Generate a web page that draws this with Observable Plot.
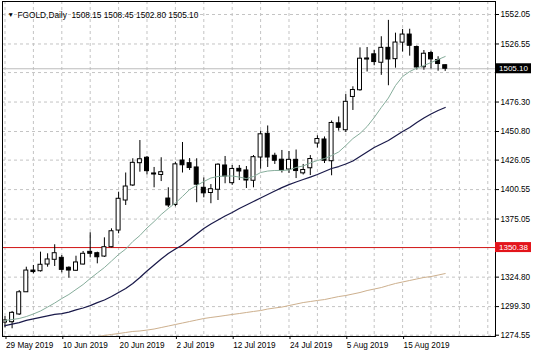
<!DOCTYPE html>
<html><head><meta charset="utf-8">
<script src="https://cdn.jsdelivr.net/npm/d3@7"></script>
<script src="https://cdn.jsdelivr.net/npm/@observablehq/plot@0.6"></script>
<style>html,body{margin:0;padding:0;background:#fff;} svg{display:block}</style>
</head><body><div id="chart"></div>
<script>
const dates = ["2019-05-29","2019-05-30","2019-05-31",
"2019-06-03","2019-06-04","2019-06-05","2019-06-06","2019-06-07","2019-06-10","2019-06-11","2019-06-12","2019-06-13","2019-06-14",
"2019-06-17","2019-06-18","2019-06-19","2019-06-20","2019-06-21","2019-06-24","2019-06-25","2019-06-26","2019-06-27","2019-06-28",
"2019-07-01","2019-07-02","2019-07-03","2019-07-04","2019-07-05","2019-07-08","2019-07-09","2019-07-10","2019-07-11","2019-07-12",
"2019-07-15","2019-07-16","2019-07-17","2019-07-18","2019-07-19","2019-07-22","2019-07-23","2019-07-24","2019-07-25","2019-07-26",
"2019-07-29","2019-07-30","2019-07-31","2019-08-01","2019-08-02","2019-08-05","2019-08-06","2019-08-07","2019-08-08","2019-08-09",
"2019-08-12","2019-08-13","2019-08-14","2019-08-15","2019-08-16","2019-08-19","2019-08-20","2019-08-21","2019-08-22","2019-08-23"];
const opens = [1285.5,1285.8,1292.5,1311.7,1330.5,1329.9,1335.7,1339.8,1341.5,1332.9,
1330.3,1335.7,1346.7,1345.5,1342.6,1350.7,1365.1,1391.1,1404.1,1423.4,
1428.1,1414.5,1413.2,1392.8,1387.2,1425.7,1423.4,1419.7,1402.1,1397.6,
1400.4,1421.4,1406.1,1418.5,1417.1,1408.2,1428.3,1448.8,1429.8,1426.4,
1417.9,1426.3,1414.6,1419.0,1440.4,1443.9,1425.1,1457.9,1451.9,1480.7,
1486.5,1513.1,1517.6,1510.3,1523.2,1513.4,1527.7,1534.7,1523.9,1506.4,
1518.7,1512.7,1508.15];
const highs = [1290.7,1295.1,1313.2,1333.4,1334.9,1346.4,1345.0,1352.8,1343.5,1333.7,
1342.9,1347.0,1363.2,1346.4,1358.8,1366.6,1398.3,1414.9,1427.2,1443.0,
1429.2,1419.7,1428.1,1402.1,1424.2,1441.3,1427.4,1427.2,1410.6,1404.9,
1422.9,1429.2,1421.4,1421.4,1420.5,1430.0,1451.1,1455.6,1432.0,1434.4,
1433.5,1434.8,1422.3,1430.0,1447.1,1446.1,1459.9,1463.4,1482.8,1489.5,
1523.2,1523.5,1520.9,1532.8,1547.0,1535.9,1539.1,1539.3,1524.8,1520.9,
1520.2,1515.5,1508.45];
const lows = [1281.0,1280.1,1291.6,1311.5,1327.7,1329.2,1333.4,1334.0,1328.5,1323.9,
1329.7,1335.3,1341.5,1336.3,1341.8,1350.2,1362.3,1386.8,1403.2,1415.6,
1413.2,1402.1,1407.5,1385.0,1385.7,1414.9,1417.1,1389.2,1393.4,1388.3,
1391.1,1405.6,1404.2,1408.4,1401.5,1402.1,1418.2,1419.7,1422.3,1414.9,
1414.5,1410.1,1413.2,1412.7,1436.5,1423.1,1412.5,1451.1,1449.9,1469.0,
1485.7,1502.3,1507.7,1499.4,1490.4,1505.6,1519.6,1516.0,1504.0,1503.8,
1504.9,1503.0,1502.80];
const closes = [1287.3,1293.9,1311.7,1330.5,1329.2,1335.5,1340.1,1345.5,1331.1,1330.5,
1337.5,1345.0,1345.0,1342.0,1350.7,1364.5,1392.6,1403.2,1423.7,1426.8,
1416.5,1413.6,1415.6,1386.8,1422.4,1421.6,1419.2,1404.8,1397.3,1400.9,
1422.1,1411.9,1418.4,1416.2,1408.4,1428.6,1448.4,1428.3,1425.5,1417.1,
1426.3,1416.6,1417.5,1427.0,1444.3,1425.5,1458.2,1454.0,1476.5,1486.7,
1513.8,1514.0,1510.9,1523.2,1513.1,1527.8,1534.7,1525.0,1506.2,1518.1,
1513.2,1509.2,1505.10];
const maFast = [1287.3,1288.1,1289.0,1290.7,1292.9,1295.5,1298.9,1302.4,1306.3,1309.8,
1314.1,1318.4,1323.6,1328.4,1333.1,1338.7,1344.4,1349.1,1355.6,1360.8,
1367.3,1372.9,1379.0,1384.2,1388.9,1394.6,1400.6,1404.1,1407.5,1410.6,
1411.9,1412.3,1412.3,1411.4,1410.1,1411.9,1415.3,1416.6,1417.1,1417.1,
1417.5,1419.7,1421.0,1423.6,1425.7,1427.4,1430.0,1433.1,1438.7,1444.7,
1449.1,1455.1,1462.9,1471.6,1479.8,1490.6,1498.4,1502.7,1505.7,1507.9,
1510.5,1513.1,1515.7];
const maMid = [1282.9,1284.2,1285.5,1287.3,1288.6,1289.9,1291.2,1292.5,1293.3,1294.6,
1296.4,1298.1,1300.2,1302.8,1305.0,1308.0,1311.5,1314.9,1319.3,1324.5,
1330.1,1335.3,1340.5,1345.2,1349.1,1352.6,1357.3,1362.1,1366.9,1370.8,
1374.2,1377.7,1380.7,1384.2,1387.2,1390.2,1393.3,1396.3,1399.3,1402.3,
1404.9,1407.1,1409.3,1411.4,1413.6,1416.2,1418.8,1420.5,1422.7,1425.3,
1429.2,1433.1,1437.0,1440.0,1443.0,1446.9,1450.8,1454.3,1458.6,1462.5,
1466.0,1469.0,1471.6];
const maSlow = [null,null,null,null,null,null,null,null,null,null,
null,null,1272.6,1273.4,1274.3,1275.2,1276.0,1276.9,1277.8,1278.2,
1279.0,1279.9,1281.2,1282.5,1283.8,1285.1,1286.4,1287.7,1289.0,1289.9,
1290.7,1291.6,1292.5,1293.3,1294.2,1295.1,1295.9,1297.2,1298.1,1298.9,
1300.2,1301.5,1302.8,1303.7,1304.6,1305.4,1306.7,1308.0,1308.9,1310.2,
1311.5,1313.2,1314.5,1315.8,1317.6,1319.3,1320.6,1321.9,1323.2,1324.5,
1325.3,1326.6,1327.9];
const yTicks = [1552.05,1526.55,1476.30,1450.80,1426.05,1400.55,1375.05,1324.80,1299.30,1274.55];
const yGrid = [1552.05,1526.55,1501.80,1476.30,1450.80,1426.05,1400.55,1375.05,1324.80,1299.30,1274.55];
const xTickDates = ["2019-05-29","2019-06-10","2019-06-20","2019-07-02","2019-07-12","2019-07-24","2019-08-05","2019-08-15"];
const xTickLabels = ["29 May 2019","10 Jun 2019","20 Jun 2019","2 Jul 2019","12 Jul 2019","24 Jul 2019","5 Aug 2019","15 Aug 2019"];
const symbolName = "FGOLD,Daily";
const redLevel = 1350.38;

const bars = dates.map((d, i) => ({i, date: d, open: opens[i], high: highs[i], low: lows[i], close: closes[i],
  fast: maFast[i], mid: maMid[i], slow: maSlow[i]}));
const last = bars[bars.length - 1];
const xTicks = xTickDates.map(d => dates.indexOf(d));
const font = "'Liberation Sans', Arial, sans-serif";
const titleText = symbolName + "\u00a0\u00a0" + [last.open, last.high, last.low, last.close].map(v => v.toFixed(2)).join(" ");

const plot = Plot.plot({
  width: 536, height: 358,
  marginLeft: 2, marginRight: 41, marginTop: 1, marginBottom: 22,
  style: {fontFamily: font, fontSize: "8.2px", color: "#000", background: "#fff", overflow: "visible"},
  x: {type: "linear", domain: [-0.352, 69.085], label: null},
  y: {type: "linear", domain: [1273.43, 1563.30], label: null},
  marks: [
    Plot.ruleX(d3.range(0, 69, 4), {stroke: "#c4c4c4", strokeDasharray: "3,3"}),
    Plot.ruleY(yGrid, {stroke: "#c4c4c4", strokeDasharray: "3,3"}),
    Plot.ruleY([last.close], {stroke: "#bdbdbd"}),
    Plot.ruleY([redLevel], {stroke: "#d01414"}),
    Plot.ruleX(bars, {x: "i", y1: "low", y2: "high", stroke: "#000"}),
    Plot.rect(bars, {x1: d => d.i - 0.28, x2: d => d.i + 0.28, y1: "open", y2: "close",
      fill: d => d.close >= d.open ? "#fff" : "#000", stroke: "#000"}),
    Plot.line(bars, {x: "i", y: "slow", stroke: "#cdb08e", strokeWidth: 1, clip: true}),
    Plot.line(bars, {x: "i", y: "mid", stroke: "#1a1a4a", strokeWidth: 1.25, clip: true}),
    Plot.line(bars, {x: "i", y: "fast", stroke: "#86ad9b", strokeWidth: 1, clip: true}),
    Plot.axisX({ticks: xTicks, tickFormat: i => xTickLabels[xTicks.indexOf(i)], textAnchor: "start",
      tickSize: 3, tickPadding: 3, dx: 1, stroke: "#000", label: null}),
    Plot.axisY({anchor: "right", ticks: yTicks, tickFormat: d => d.toFixed(2), tickSize: 3, tickPadding: 2, label: null}),
    Plot.frame({stroke: "#000"}),
    Plot.text(["\u25BC"], {frameAnchor: "top-left", dx: 5, dy: 10.5, textAnchor: "start", fontSize: 6.5, fill: "#000"}),
    Plot.text([titleText], {frameAnchor: "top-left", dx: 15, dy: 10.5, textAnchor: "start", fontSize: 8.3, fill: "#000"})
  ]
});

const ys = plot.scale("y"), xs = plot.scale("x");
const xr = xs.range[1];
const svg = d3.select(plot);
function tag(v, bg) {
  const y = ys.apply(v);
  const g = svg.append("g").attr("text-anchor", "start");
  g.append("rect").attr("x", xr).attr("y", y - 5).attr("width", 36).attr("height", 10).attr("fill", bg);
  g.append("text").attr("x", xr + 4).attr("y", y).attr("dy", "0.35em").attr("fill", "#fff")
    .attr("text-anchor", "start").attr("font-size", "8px").attr("font-family", font).text(v.toFixed(2));
}
tag(last.close, "#000");
tag(redLevel, "#e3141b");
document.getElementById("chart").appendChild(plot);
</script>
</body></html>
